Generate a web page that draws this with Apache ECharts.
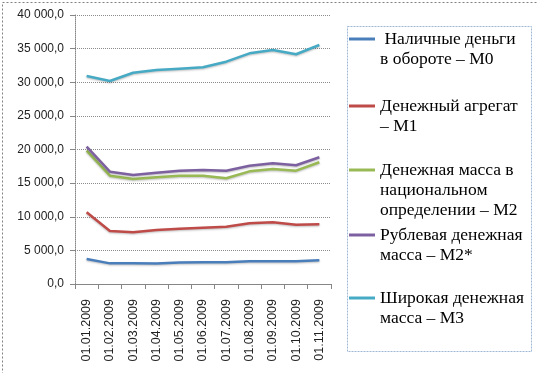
<!DOCTYPE html>
<html>
<head>
<meta charset="utf-8">
<script src="https://cdn.jsdelivr.net/npm/echarts@6/dist/echarts.min.js"></script>
<style>
  html, body { margin: 0; padding: 0; background: #fff; }
  #chart { width: 537px; height: 373px; }
</style>
</head>
<body>
<div id="chart"></div>
<script>
  // даты (категории оси X)
  const dates = [
    "01.01.2009", "01.02.2009", "01.03.2009", "01.04.2009", "01.05.2009", "01.06.2009",
    "01.07.2009", "01.08.2009", "01.09.2009", "01.10.2009", "01.11.2009"
  ];
  // значения рядов, млрд руб.
  const m0 = [3720, 3070, 3070, 3050, 3200, 3250, 3250, 3380, 3400, 3400, 3520];
  const m1 = [10660, 7880, 7690, 8030, 8220, 8370, 8520, 9020, 9170, 8820, 8870];
  const m2 = [19820, 16110, 15610, 15860, 16110, 16110, 15720, 16750, 17100, 16850, 18100];
  const m2s = [20420, 16700, 16210, 16550, 16850, 16950, 16850, 17590, 17940, 17650, 18840];
  const m3 = [30930, 30190, 31420, 31820, 32020, 32220, 33060, 34300, 34800, 34160, 35540];
  // подписи легенды
  const names = [
    " Наличные деньги\nв обороте – М0",
    "Денежный агрегат\n– М1",
    "Денежная масса в\nнациональном\nопределении – М2",
    "Рублевая денежная\nмасса – М2*",
    "Широкая денежная\nмасса – М3"
  ];
  const seriesData = [m0, m1, m2, m2s, m3];
  const colors = ["#4A7EBB", "#BE4B48", "#98B954", "#7D60A0", "#46AAC5"];
  // центр первой строки каждой подписи легенды
  const legendY = [39, 106, 170, 235, 298];

  const chart = echarts.init(document.getElementById("chart"), null, { renderer: "canvas" });

  const fmt = (v) => {
    const s = Math.round(v).toString().replace(/\B(?=(\d{3})+(?!\d))/g, " ");
    return s + ",0";
  };

  // каждая подпись — отдельная легенда; пустые строки сверху опускают текст,
  // чтобы линия-значок стояла напротив первой строки
  const legends = names.map((name, i) => {
    const lines = name.split("\n").length;
    const total = lines * 2 - 1;
    return {
      data: [name],
      left: 349,
      top: legendY[i] - total * 10,
      padding: 0,
      icon: "rect",
      itemWidth: 26,
      itemHeight: 3,
      selectedMode: false,
      formatter: (n) => "\n".repeat(lines - 1) + n,
      textStyle: {
        fontFamily: "'Liberation Serif', 'DejaVu Serif', serif",
        fontSize: 17.5,
        color: "#000",
        lineHeight: 20
      }
    };
  });

  const option = {
    animation: false,
    color: colors,
    grid: { left: 75, right: 206, top: 15, bottom: 89 },
    legend: legends,
    xAxis: {
      type: "category",
      data: dates,
      boundaryGap: true,
      axisLine: { lineStyle: { color: "#868686", width: 1 } },
      axisTick: { show: true, length: 5, lineStyle: { color: "#868686" } },
      axisLabel: {
        rotate: 90,
        interval: 0,
        margin: 15,
        fontFamily: "Liberation Sans",
        fontSize: 12.5,
        color: "#222"
      },
      splitLine: { show: false }
    },
    yAxis: {
      type: "value",
      min: 0,
      max: 40000,
      interval: 5000,
      axisLine: { show: true, lineStyle: { color: "#868686", type: "dotted" } },
      axisTick: { show: true, length: 5, lineStyle: { color: "#868686" } },
      axisLabel: {
        margin: 11,
        fontFamily: "Liberation Sans",
        fontSize: 12,
        color: "#222",
        formatter: fmt
      },
      splitLine: { lineStyle: { color: "#8c8c8c", type: "dotted", width: 1 } }
    },
    series: names.map((name, i) => ({
      name: name,
      type: "line",
      data: seriesData[i],
      showSymbol: false,
      symbol: "none",
      lineStyle: {
        width: 2.5,
        color: colors[i],
        shadowColor: "rgba(0,0,0,0.25)",
        shadowBlur: 2,
        shadowOffsetY: 1
      }
    })),
    graphic: [
      {
        type: "rect",
        left: 0,
        top: 0,
        shape: { x: 0.5, y: 0.5, width: 536, height: 372 },
        style: { fill: "none", stroke: "#808080", lineWidth: 1, lineDash: [2, 2] },
        silent: true
      },
      {
        type: "rect",
        left: 345,
        top: 24,
        shape: { x: 0.5, y: 0.5, width: 184, height: 325 },
        style: { fill: "none", stroke: "#9DB7D5", lineWidth: 1, lineDash: [2, 1] },
        silent: true
      }
    ]
  };

  chart.setOption(option);
</script>
</body>
</html>
